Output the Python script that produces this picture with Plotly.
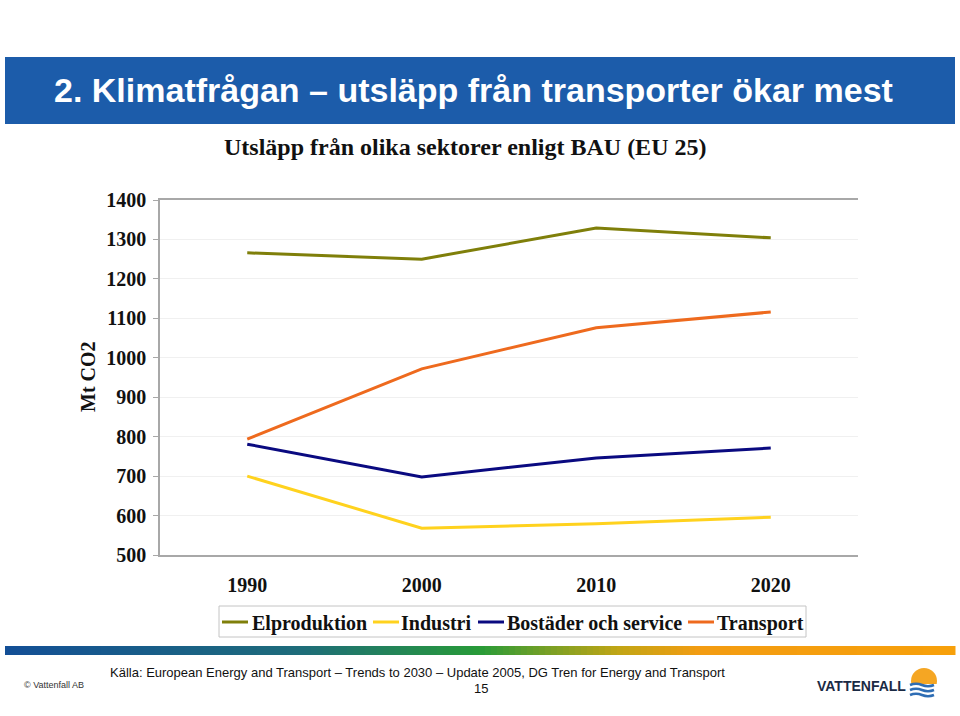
import plotly.graph_objects as go

years = ["1990", "2000", "2010", "2020"]
elproduktion = [1266, 1250, 1329, 1304]
industri = [700, 568, 579, 596]
bostader = [781, 698, 746, 771]
transport = [794, 972, 1076, 1116]

series_names = ["Elproduktion", "Industri", "Bostäder och service", "Transport"]
series_values = [elproduktion, industri, bostader, transport]
series_colors = ["#7F7F0A", "#FFD21E", "#0A0A80", "#EE6A1E"]

y_ticks = [500, 600, 700, 800, 900, 1000, 1100, 1200, 1300, 1400]

# plot-area geometry (pixels)
L, R, T, B = 160, 858, 200, 555
W, H = R - L, B - T


def X(px):
    return (px - L) / W


def Y(py):
    return (B - py) / H


serif = "Liberation Serif"
sans = "Liberation Sans"

fig = go.Figure()
for name, vals, col in zip(series_names, series_values, series_colors):
    fig.add_trace(go.Scatter(x=years, y=vals, name=name, mode="lines",
                             line=dict(color=col, width=3), showlegend=False))

shapes = []
# title bar
shapes.append(dict(type="rect", xref="paper", yref="paper", x0=X(5), x1=X(955), y0=Y(124), y1=Y(57),
                   fillcolor="#1C5CAA", line=dict(width=0), layer="below"))

# footer gradient bar
stops = [(5, (19, 79, 150)), (300, (30, 108, 122)), (480, (40, 155, 56)), (550, (122, 160, 37)),
         (620, (194, 165, 21)), (700, (243, 156, 18)), (955, (247, 160, 10))]


def grad(px):
    for (a, ca), (b, cb) in zip(stops[:-1], stops[1:]):
        if a <= px <= b:
            t = (px - a) / (b - a)
            return "rgb(%d,%d,%d)" % tuple(round(ca[i] + (cb[i] - ca[i]) * t) for i in range(3))
    return "rgb(247,160,10)"


step = 6
xs = 5
while xs < 955:
    xe = min(xs + step, 955)
    shapes.append(dict(type="rect", xref="paper", yref="paper", x0=X(xs), x1=X(xe + 0.5),
                       y0=Y(655), y1=Y(646), fillcolor=grad((xs + xe) / 2), line=dict(width=0)))
    xs = xe

# logo icon
shapes.append(dict(type="circle", xref="paper", yref="paper", x0=X(911), x1=X(937), y0=Y(694), y1=Y(668),
                   fillcolor="#F5A623", line=dict(width=0)))
shapes.append(dict(type="rect", xref="paper", yref="paper", x0=X(909), x1=X(939), y0=Y(700), y1=Y(684),
                   fillcolor="white", line=dict(width=0)))


def wave(y0, amp=2.5):
    pts = [(910, y0), (916, y0 - amp), (922, y0), (928, y0 + amp), (934, y0), (938, y0 - amp)]
    d = "M %f %f" % (X(pts[0][0]), Y(pts[0][1]))
    d += " Q %f %f %f %f" % (X(pts[1][0]), Y(pts[1][1]), X(pts[2][0]), Y(pts[2][1]))
    d += " Q %f %f %f %f" % (X(pts[3][0]), Y(pts[3][1]), X(pts[4][0]), Y(pts[4][1]))
    return d


for yy in (685, 690, 695):
    shapes.append(dict(type="path", xref="paper", yref="paper", path=wave(yy),
                       line=dict(color="#2E6DB4", width=2.5)))

# legend (box, samples, labels)
legend_box = (219, 806, 606, 637)
legend_sample_x = [222, 373, 478, 688]
legend_text_x = [250, 399, 505, 715]
legend_cy = 622
shapes.append(dict(type="rect", xref="paper", yref="paper", x0=X(legend_box[0]), x1=X(legend_box[1]),
                   y0=Y(legend_box[3]), y1=Y(legend_box[2]), line=dict(color="#c4c4c4", width=1),
                   fillcolor="white"))

annotations = []
for name, col, sx, tx in zip(series_names, series_colors, legend_sample_x, legend_text_x):
    shapes.append(dict(type="line", xref="paper", yref="paper", x0=X(sx), x1=X(sx + 26),
                       y0=Y(legend_cy), y1=Y(legend_cy), line=dict(color=col, width=3)))
    annotations.append(dict(text=name, x=X(tx), y=Y(legend_cy + 1), xanchor="left", yanchor="middle",
                            font=dict(family=serif, size=20, color="#111111", weight="bold")))

annotations += [
    dict(text="2. Klimatfrågan – utsläpp från transporter ökar mest", x=X(52), y=Y(90),
         xanchor="left", yanchor="middle", font=dict(family=sans, size=34, color="white", weight="bold")),
    dict(text="Utsläpp från olika sektorer enligt BAU (EU 25)", x=X(465), y=Y(147),
         xanchor="center", yanchor="middle", font=dict(family=serif, size=24, color="#111111", weight="bold")),
    dict(text="Mt CO2", x=X(88), y=Y(377), textangle=-90, xanchor="center", yanchor="middle",
         font=dict(family=serif, size=20, color="#111111", weight="bold")),
    dict(text="Källa: European Energy and Transport – Trends to 2030 – Update 2005, DG Tren for Energy and Transport",
         x=X(417), y=Y(672), xanchor="center", yanchor="middle",
         font=dict(family=sans, size=13, color="#111111")),
    dict(text="15", x=X(481), y=Y(688), xanchor="center", yanchor="middle",
         font=dict(family=sans, size=13, color="#111111")),
    dict(text="© Vattenfall AB", x=X(22), y=Y(685), xanchor="left", yanchor="middle",
         font=dict(family=sans, size=9, color="#333333")),
    dict(text="VATTENFALL", x=X(908), y=Y(686), xanchor="right", yanchor="middle",
         font=dict(family=sans, size=14, color="#1a2a44", weight="bold")),
]
for a in annotations:
    a.update(xref="paper", yref="paper", showarrow=False)

fig.update_layout(
    width=960, height=716,
    margin=dict(l=L, r=960 - R, t=T, b=716 - B),
    paper_bgcolor="white", plot_bgcolor="white",
    showlegend=False,
    shapes=shapes,
    annotations=annotations,
)
fig.update_xaxes(type="category", range=[-0.5, 3.5], showline=True, linecolor="#a8a8a8", linewidth=1.5,
                 mirror=True, showgrid=False, ticks="", ticklabelstandoff=11,
                 tickfont=dict(family=serif, size=20, color="#111111", weight="bold"))
fig.update_yaxes(range=[500, 1400], tickvals=y_ticks, showline=True, linecolor="#a8a8a8", linewidth=1.5,
                 ticks="outside", ticklen=5, tickcolor="#a8a8a8", ticklabelstandoff=3,
                 showgrid=True, gridcolor="#f0f0f0", zeroline=False,
                 tickfont=dict(family=serif, size=20, color="#111111", weight="bold"))

fig.write_html("out.html", config={"displayModeBar": False},
               post_script="document.body.style.margin='0';document.body.style.padding='0';")
